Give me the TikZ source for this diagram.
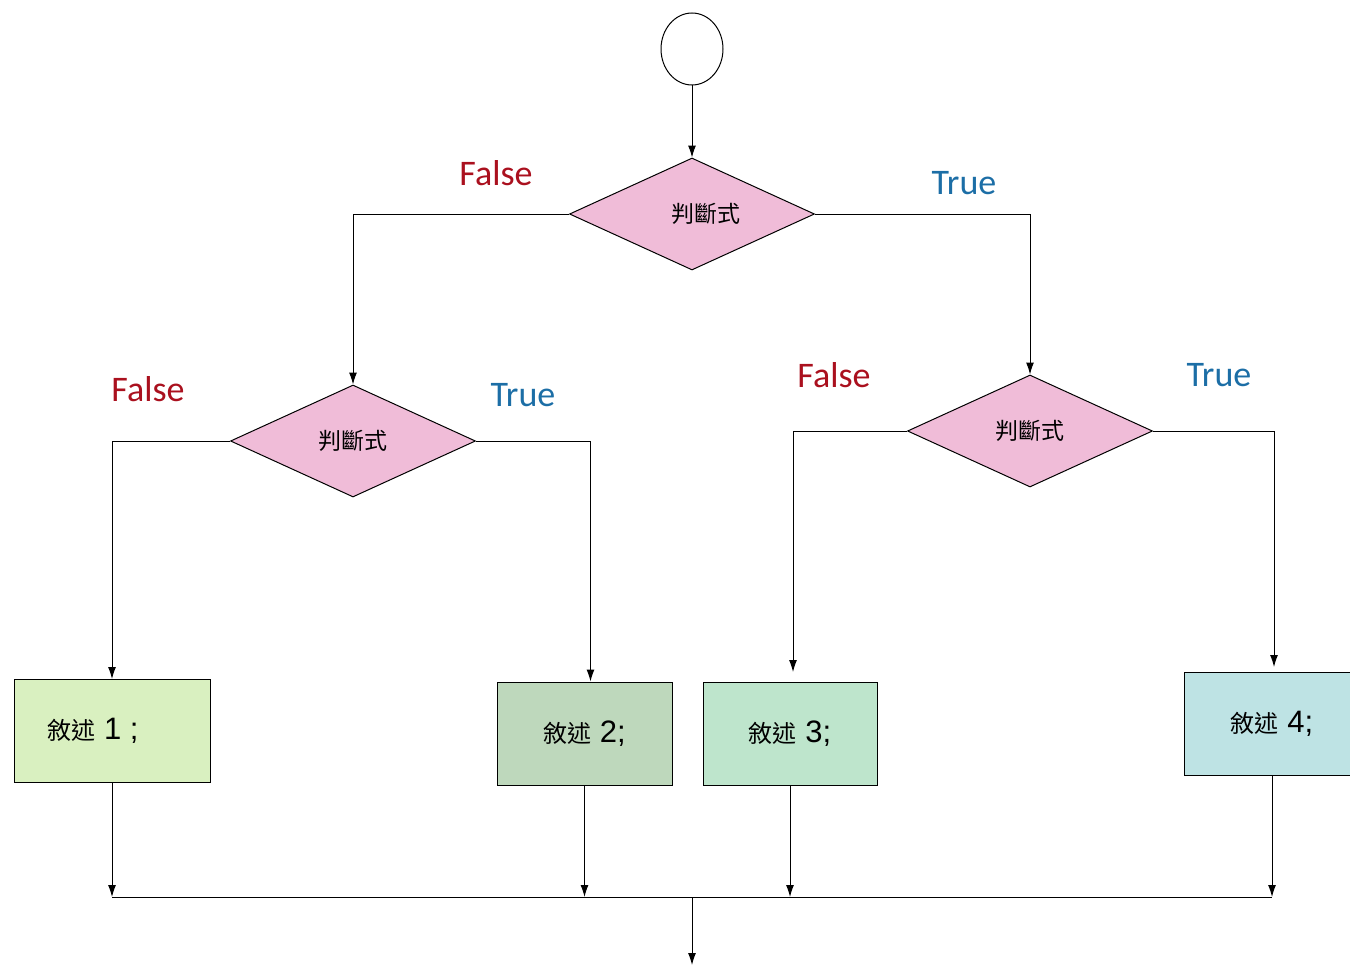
\documentclass[tikz,border=0pt]{standalone}
\usepackage{fontspec}
\setmainfont{Liberation Sans}
\newfontfamily\cjk{Noto Sans CJK TC}
\newfontfamily\lbl{Carlito}
\usetikzlibrary{shapes.geometric,arrows.meta}

\definecolor{decfill}{RGB}{240,188,216}
\definecolor{sa}{RGB}{217,240,192}
\definecolor{sb}{RGB}{190,216,188}
\definecolor{sc}{RGB}{190,229,204}
\definecolor{sd}{RGB}{190,227,228}
\definecolor{fred}{RGB}{170,16,30}
\definecolor{tblue}{RGB}{28,110,166}

\begin{document}
\begin{tikzpicture}[x=1pt,y=-1pt,line width=1pt,
    >={Latex[length=12pt,width=8pt]},
    dec/.style={draw, diamond, fill=decfill, inner sep=0pt, minimum width=245pt, minimum height=112pt, font=\cjk\fontsize{23}{26}\selectfont},
    stmt/.style={draw, rectangle, inner sep=0pt, minimum height=103pt, font=\fontsize{31}{34}\selectfont},
    fl/.style={text=fred, font=\lbl\fontsize{36}{40}\selectfont},
    tr/.style={text=tblue, font=\lbl\fontsize{36}{40}\selectfont}]
    \useasboundingbox (0,0) rectangle (1350,966);

    \node[draw, ellipse, inner sep=0pt, minimum width=62pt, minimum height=72pt] (c) at (692,49) {};
    \node[dec] (d1) at (692,214) {\makebox[0pt]{\hspace*{28pt}判斷式}};
    \node[dec] (d2) at (353,441) {判斷式};
    \node[dec] (d3) at (1030,431) {判斷式};

    \node[stmt, fill=sa, minimum width=196pt] (s1) at (112,731) {\hspace*{-38pt}{\cjk\fontsize{24}{26}\selectfont 敘述} 1 ;};
    \node[stmt, fill=sb, minimum width=175pt] (s2) at (584.5,733.5) {{\cjk\fontsize{24}{26}\selectfont 敘述} 2;};
    \node[stmt, fill=sc, minimum width=174pt] (s3) at (790,733.5) {{\cjk\fontsize{24}{26}\selectfont 敘述} 3;};
    \node[stmt, fill=sd, minimum width=175pt] (s4) at (1272,723.5) {{\cjk\fontsize{24}{26}\selectfont 敘述} 4;};

    \node[fl] (f1) at (496,173) {False};
    \node[tr] (t1) at (964,183) {True};
    \node[fl] (f2) at (148,389) {False};
    \node[tr] (t2) at (523,395) {True};
    \node[fl] (f3) at (834,375) {False};
    \node[tr] (t3) at (1219,375) {True};

    \coordinate (a3) at (793,672);
    \coordinate (a4) at (1274,667);
    \coordinate (m) at (692,897);
    \coordinate (out) at (692,965);

    \draw[->] (c) -- (d1);
    \draw[->] (d1.west) -| (d2.north);
    \draw[->] (d1.east) -| (d3.north);
    \draw[->] (d2.west) -| (s1.north);
    \draw[->] (d2.east) -| ([xshift=6pt]s2.north);
    \draw[->] (d3.west) -| (a3);
    \draw[->] (d3.east) -| (a4);

    \draw[->] (s1.south) -- (s1.south |- m);
    \draw[->] (s2.south) -- (s2.south |- m);
    \draw[->] (s3.south) -- (s3.south |- m);
    \draw[->] (s4.south) -- (s4.south |- m);
    \draw (s1.south |- m) -- (s4.south |- m);
    \draw[->] (m) -- (out);

  \end{tikzpicture}
\end{document}
